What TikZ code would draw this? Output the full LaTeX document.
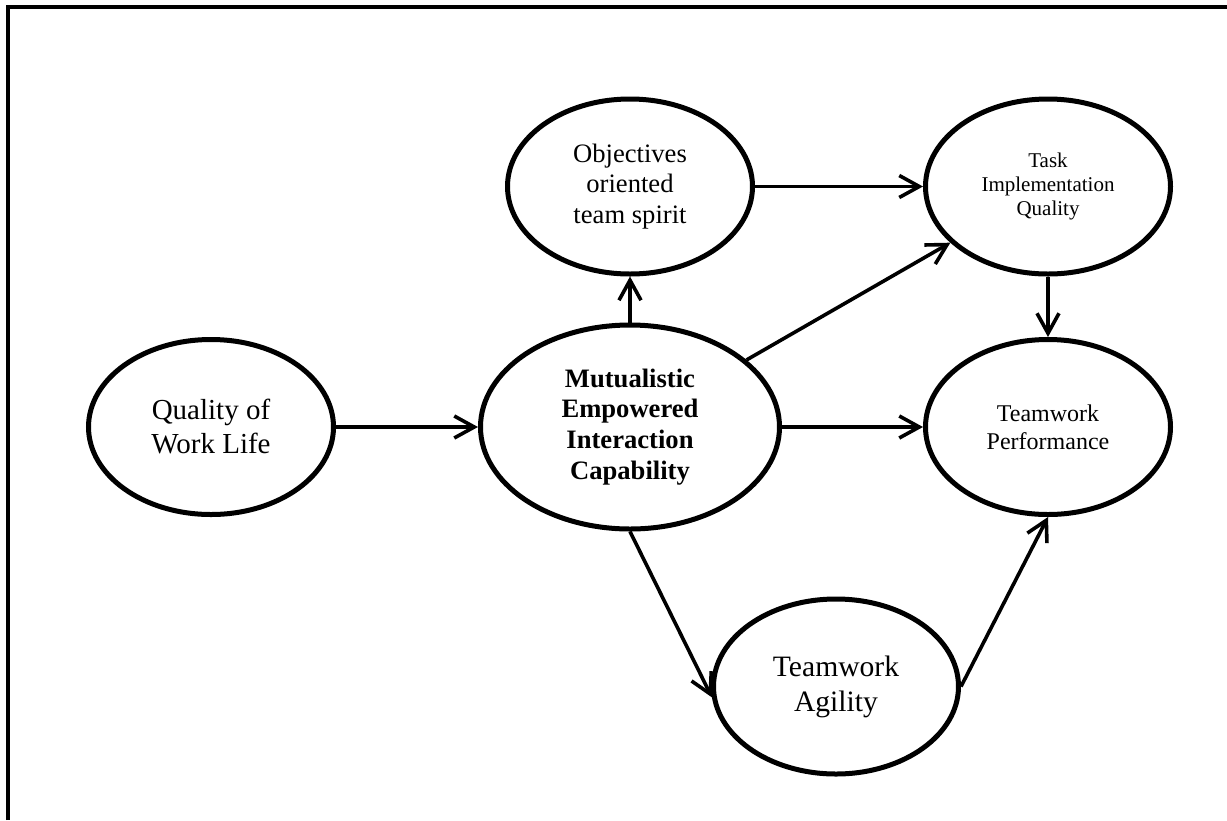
\documentclass[tikz,border=0pt]{standalone}
\usepackage{fontspec}
\setmainfont{Liberation Serif}
\usepackage{tikz}
\usetikzlibrary{shapes,arrows,positioning,calc,arrows.meta}
\tikzset{
  factorNode/.style={
    ellipse,
    draw=black,
    line width=2.5pt,
    minimum width=122.5pt,
    minimum height=87.5pt,
    inner sep=0pt,
    align=center
  },
  arrowLine/.style={
    -{Straight Barb[length=10pt,width=11pt]},
    line width=1.8pt
  }
}

\begin{document}
\begin{tikzpicture}[x=0.5pt,y=-0.5pt]
        \useasboundingbox (0,0) rectangle (1227,820);
        \draw[line width=2pt] (8,820) -- (8,6.5) -- (1227,6.5);

        \node[factorNode, minimum width=149.5pt, minimum height=102pt,
              font=\bfseries\fontsize{13.3}{15.4}\selectfont] (mut) at (630,427)
              {Mutualistic\\Empowered\\Interaction\\Capability};
        \node[factorNode, left=71pt of mut, font=\fontsize{14.5}{17}\selectfont] (qwl)
              {Quality of\\Work Life};
        \node[factorNode, right=70.5pt of mut, font=\fontsize{12}{14}\selectfont] (perf)
              {Teamwork\\Performance};
        \node[factorNode, above=23pt of mut, font=\fontsize{13.3}{15.2}\selectfont] (spirit)
              {Objectives\\oriented\\team spirit};
        \node[factorNode, right=84pt of spirit, font=\fontsize{10.5}{12.2}\selectfont] (task)
              {Task\\Implementation\\Quality};
        \node[factorNode, below=32.5pt of mut, xshift=103pt, font=\fontsize{14.8}{17.5}\selectfont] (agility)
              {Teamwork\\Agility};

        \draw[arrowLine] (qwl) -- (mut);
        \draw[arrowLine] (mut) -- (spirit);
        \draw[arrowLine] (spirit) -- (task);
        \draw[arrowLine] (mut) -- (task);
        \draw[arrowLine] (mut) -- (perf);
        \draw[arrowLine] (task) -- (perf);
        \draw[arrowLine] (mut.south) -- (agility.185);
        \draw[arrowLine] (agility.east) -- (perf.south);
    \end{tikzpicture}
\end{document}
